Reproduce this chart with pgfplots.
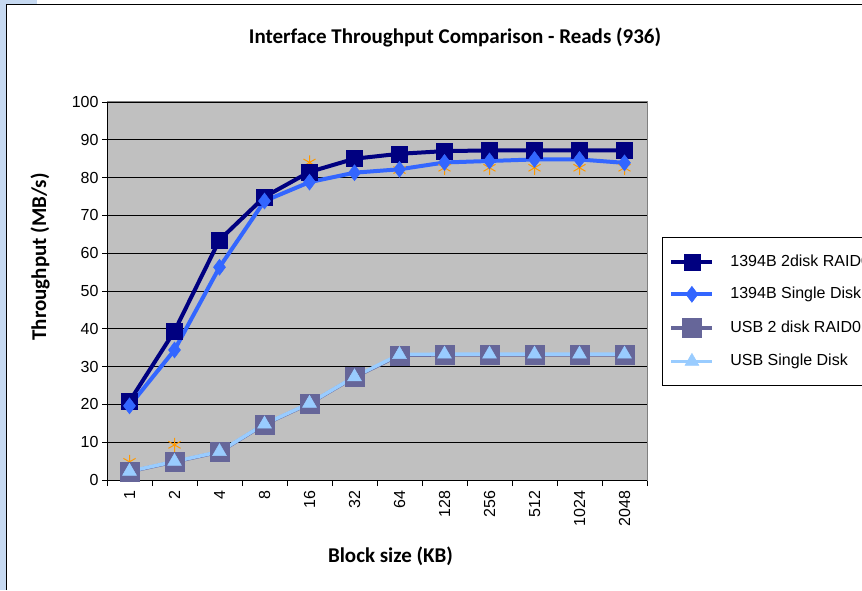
\documentclass[border=0pt]{standalone}
\usepackage{fontspec}
\setmainfont{Carlito}
\newfontfamily\arialf{Liberation Sans}
\usepackage{pgfplots}
\pgfplotsset{compat=1.18}
\definecolor{navyc}{HTML}{000080}
\definecolor{bluec}{HTML}{3366FF}
\definecolor{usbraid}{HTML}{666699}
\definecolor{usbsingle}{HTML}{99CCFF}
\definecolor{plotgray}{HTML}{C0C0C0}
\definecolor{framegray}{HTML}{808080}
\definecolor{lightblue}{HTML}{C6D9F1}
\definecolor{orangec}{HTML}{FF9900}
\begin{document}
\begin{tikzpicture}[x=1pt,y=1pt]
\useasboundingbox (0,0) rectangle (862,590);
\clip (0,0) rectangle (862,590);
\fill[white] (0,0) rectangle (862,590);
\fill[lightblue] (0,0) rectangle (6,590);
\fill[lightblue] (0,586) rectangle (37,590);
\draw[black, line width=1.2pt] (6.5,0) -- (6.5,585.5) -- (862,585.5);
\node[font=\bfseries\fontsize{21}{23}\selectfont] at (455,553) {Interface Throughput Comparison - Reads (936)};
\begin{pgfinterruptboundingbox}
\begin{axis}[
  at={(107pt,110pt)}, anchor=south west,
  width=540pt, height=378pt, scale only axis,
  xmin=-0.5, xmax=11.5, ymin=0, ymax=100,
  xtick={0,...,11},
  xticklabels={1,2,4,8,16,32,64,128,256,512,1024,2048},
  minor xtick={-0.5,0.5,...,11.5},
  ytick={0,10,...,100},
  tick pos=left,
  tick align=outside,
  major tick length=5pt,
  minor tick length=6pt,
  xtick style={draw=none},
  minor x tick style={draw=black, line width=0.8pt},
  y tick style={black, line width=0.8pt},
  ymajorgrids,
  major grid style={black, line width=0.9pt},
  axis line style={framegray, line width=1pt},
  axis background/.style={fill=plotgray},
  /pgf/number format/assume math mode=true,
  tick label style={font=\arialf\fontsize{16}{17}\selectfont},
  x tick label style={rotate=90, anchor=east, xshift=-2pt},
  xlabel={Block size (KB)},
  ylabel={Throughput (MB/s)},
  every axis x label/.style={at={(axis description cs:0.525,-0.203)}, anchor=center, font=\bfseries\fontsize{21}{23}\selectfont},
  every axis y label/.style={at={(axis description cs:-0.124,0.59)}, rotate=90, anchor=center, font=\bfseries\fontsize{21}{23}\selectfont},
  legend cell align=left,
  legend style={at={(1.0278,0.643)}, anchor=north west, draw=black, line width=0.8pt, fill=white,
    font=\arialf\fontsize{16}{19}\selectfont,
    nodes={inner sep=0pt, text height=12pt, text depth=3pt},
    row sep=16pt, inner xsep=7pt, inner ysep=17pt,
    /tikz/every odd column/.append style={column sep=16pt}},
  legend image code/.code={\draw[mark repeat=2,mark phase=2,#1] plot coordinates {(0pt,0pt) (20.5pt,0pt) (41pt,0pt)};},
]
\addplot[forget plot, only marks, mark=asterisk, mark size=7pt, orangec, line width=1pt]
  coordinates {(0,4.8) (1,9.3) (4,84) (5,85.2) (6,82) (7,82.6) (8,82.6) (9,82.6) (10,82.6) (11,82.6)};
\addplot[navyc, line width=4pt, mark=square*, mark size=8pt, mark options={solid, fill=navyc, draw=navyc, line width=0.5pt}]
  coordinates {(0,20.8) (1,39.4) (2,63.5) (3,74.9) (4,81.5) (5,85.0) (6,86.3) (7,87.0) (8,87.2) (9,87.2) (10,87.2) (11,87.2)};
\addlegendentry{1394B 2disk RAID0}
\addplot[bluec, line width=4pt, mark=diamond*, mark size=8pt, mark options={solid, fill=bluec, draw=bluec, line width=0.5pt}]
  coordinates {(0,19.6) (1,34.4) (2,56.3) (3,73.8) (4,78.8) (5,81.3) (6,82.2) (7,84.0) (8,84.4) (9,84.8) (10,84.8) (11,83.9)};
\addlegendentry{1394B Single Disk}
\addplot[usbraid, line width=3.5pt, mark=square*, mark size=9.5pt, mark options={solid, fill=usbraid, draw=usbraid, line width=0.5pt}]
  coordinates {(0,2.2) (1,4.8) (2,7.4) (3,14.7) (4,20.2) (5,27.2) (6,33.0) (7,33.1) (8,33.1) (9,33.1) (10,33.1) (11,33.1)};
\addlegendentry{USB 2 disk RAID0}
\addplot[usbsingle, line width=3.5pt, mark=triangle*, mark size=8pt, mark options={solid, fill=usbsingle, draw=usbsingle, line width=0.5pt}]
  coordinates {(0,2.3) (1,4.9) (2,7.5) (3,14.8) (4,20.3) (5,27.3) (6,33.2) (7,33.3) (8,33.3) (9,33.3) (10,33.3) (11,33.3)};
\addlegendentry{USB Single Disk}
\draw[black, line width=1pt] (rel axis cs:0,1) -- (rel axis cs:0,0) -- (rel axis cs:1,0);
\end{axis}
\end{pgfinterruptboundingbox}
\end{tikzpicture}
\end{document}
